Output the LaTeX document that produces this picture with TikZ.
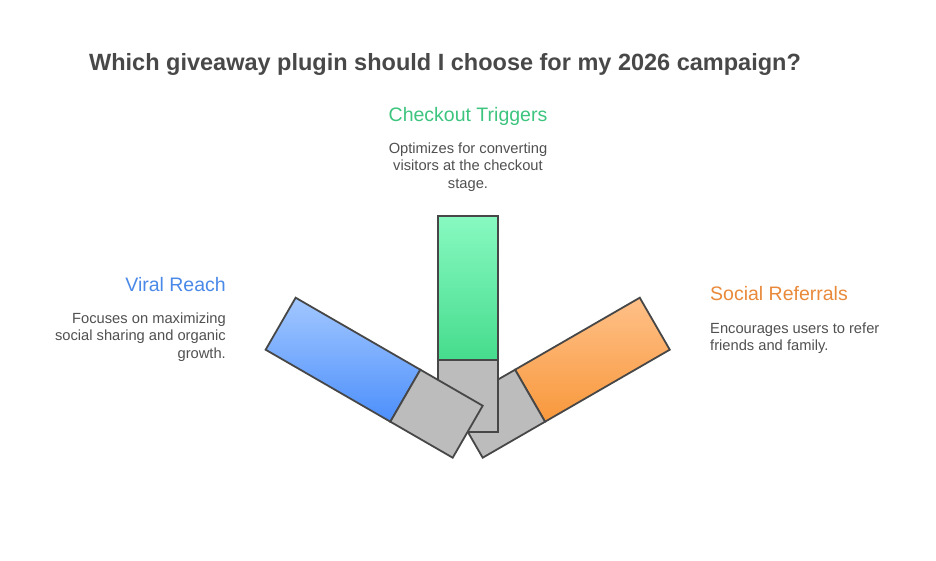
\documentclass[tikz,border=0pt]{standalone}
\usepackage{fontspec}
\setmainfont{Liberation Sans}
\usetikzlibrary{calc}
\definecolor{titlec}{HTML}{484848}
\definecolor{descc}{HTML}{505050}
\definecolor{greenh}{HTML}{3DC47E}
\definecolor{blueh}{HTML}{4A89E8}
\definecolor{orangeh}{HTML}{E9893A}
\definecolor{greentop}{HTML}{88F9C1}
\definecolor{greenbot}{HTML}{46DC8D}
\definecolor{bluetop}{HTML}{A2C7FF}
\definecolor{bluebot}{HTML}{4C8FFB}
\definecolor{orangetop}{HTML}{FFC088}
\definecolor{orangebot}{HTML}{F8983C}
\definecolor{grayfill}{HTML}{BCBCBC}
\definecolor{strokec}{HTML}{474747}
\tikzset{
  barline/.style={draw=strokec, line width=1.8pt, line join=miter},
  grayseg/.style={barline, fill=grayfill},
  titletext/.style={font=\fontsize{23.5}{28}\selectfont\bfseries, text=titlec, inner sep=0pt},
  headtext/.style={font=\fontsize{19.5}{23}\selectfont, inner sep=0pt},
  desctext/.style={font=\fontsize{14.7}{17.5}\selectfont, text=descc, inner sep=0pt},
}
\begin{document}
\begin{tikzpicture}[x=1pt,y=-1pt]
\useasboundingbox (0,0) rectangle (936,560);
% title
\node[titletext, anchor=base] (title) at (445,70) {Which giveaway plugin should I choose for my 2026 campaign?};
% right bar (behind)
\path[barline, top color=orangetop, bottom color=orangebot]
  (515.05,369.7) -- (639.76,297.7) -- (669.76,349.7) -- (545.05,421.7) -- cycle;
\path[grayseg] (452.7,405.7) -- (515.05,369.7) -- (545.05,421.7) -- (482.7,457.7) -- cycle;
% vertical bar
\path[barline, top color=greentop, bottom color=greenbot]
  (437.7,215.7) rectangle (497.7,359.7);
\path[grayseg] (437.7,359.7) rectangle (497.7,431.7);
% left bar (front)
\path[barline, top color=bluetop, bottom color=bluebot]
  (295.64,297.7) -- (420.35,369.7) -- (390.35,421.7) -- (265.64,349.7) -- cycle;
\path[grayseg] (420.35,369.7) -- (482.7,405.7) -- (452.7,457.7) -- (390.35,421.7) -- cycle;
% texts
\node[headtext, text=greenh, anchor=base] (cth) at (468,121) {Checkout Triggers};
\node[desctext, align=center, anchor=base] (ctd) at (468,188.3) {Optimizes for converting\\visitors at the checkout\\stage.};
\node[headtext, text=blueh, anchor=base east] (vrh) at (226,291.7) {Viral Reach};
\node[desctext, align=right, anchor=base east] (vrd) at (226,358.3) {Focuses on maximizing\\social sharing and organic\\growth.};
\node[headtext, text=orangeh, anchor=base west] (srh) at (710,300.7) {Social Referrals};
\node[desctext, align=left, anchor=base west] (srd) at (710,350.8) {Encourages users to refer\\friends and family.};
\end{tikzpicture}
\end{document}
